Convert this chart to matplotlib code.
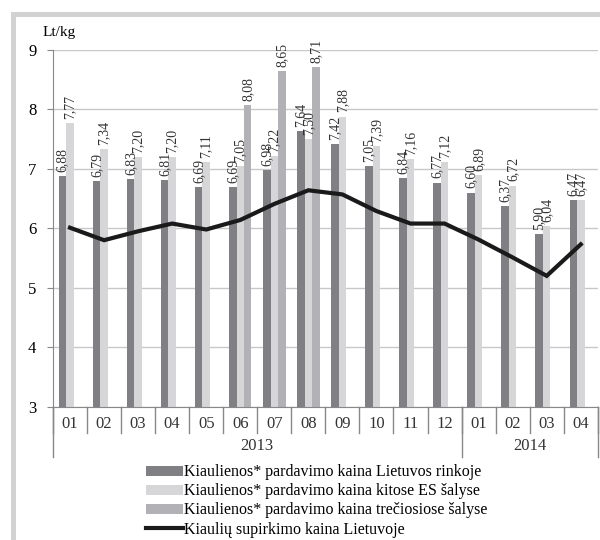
import numpy as np
import matplotlib
matplotlib.use("Agg")
import matplotlib.pyplot as plt
from matplotlib.patches import Rectangle
from matplotlib.transforms import blended_transform_factory

plt.rcParams['font.family'] = ['Liberation Serif', 'DejaVu Serif']

# data
months = ['01', '02', '03', '04', '05', '06', '07', '08', '09', '10', '11', '12',
          '01', '02', '03', '04']
years = ['2013', '2014']
year_sizes = [12, 4]

lt_rinka = [6.88, 6.79, 6.83, 6.81, 6.69, 6.69, 6.98, 7.64, 7.42, 7.05, 6.84, 6.77,
            6.60, 6.37, 5.90, 6.47]
es_salys = [7.77, 7.34, 7.20, 7.20, 7.11, 7.05, 7.22, 7.50, 7.88, 7.39, 7.16, 7.12,
            6.89, 6.72, 6.04, 6.47]
trecios = [np.nan, np.nan, np.nan, np.nan, np.nan, 8.08, 8.65, 8.71, np.nan, np.nan,
           np.nan, np.nan, np.nan, np.nan, np.nan, np.nan]
supirkimas = [6.01, 5.80, 5.95, 6.08, 5.98, 6.14, 6.41, 6.64, 6.57, 6.29, 6.08, 6.08,
              5.81, 5.51, 5.20, 5.73]

names = ['Kiaulienos* pardavimo kaina Lietuvos rinkoje',
         'Kiaulienos* pardavimo kaina kitose ES šalyse',
         'Kiaulienos* pardavimo kaina trečiosiose šalyse',
         'Kiaulių supirkimo kaina Lietuvoje']
colors = ['#808084', '#d6d6d8', '#b2b2b6']


def fmt(v):
    if np.isnan(v):
        return ''
    return f'{v:.2f}'.replace('.', ',')


fig = plt.figure(figsize=(6, 5.4), dpi=100)
ax = fig.add_axes([0.0883, 0.247, 0.908, 0.6604])

# outer frame (top and left)
fig.add_artist(Rectangle((0.018, 0.0), 0.009, 0.978, transform=fig.transFigure,
                         color='#d2d2d2', lw=0))
fig.add_artist(Rectangle((0.018, 0.9685), 0.982, 0.0095, transform=fig.transFigure,
                         color='#d2d2d2', lw=0))

x = np.arange(len(months))
w = 0.22
series = [lt_rinka, es_salys, trecios]
for k, vals in enumerate(series):
    bars = ax.bar(x + (k - 1) * w, vals, w, bottom=0, color=colors[k],
                  label=names[k], zorder=2)
    ax.bar_label(bars, labels=[fmt(v) for v in vals], rotation=90, padding=3,
                 fontsize=10, color='#333333')

ax.plot(x, supirkimas, color='#1a1a1a', lw=3, label=names[3], zorder=3,
        solid_joinstyle='miter')

ax.set_ylim(3, 9)
ax.set_xlim(-0.5, len(months) - 0.5)
ax.set_yticks(range(3, 10))
ax.yaxis.grid(True, color='#c8c8c8', lw=1)
ax.set_axisbelow(True)
ax.tick_params(axis='y', labelsize=12, length=4, color='#888888', pad=8)
ax.set_xticks(x)
ax.set_xticklabels(months, fontsize=12, color='#333333')
ax.tick_params(axis='x', length=0, pad=7)
for s in ['top', 'right']:
    ax.spines[s].set_visible(False)
for s in ['left', 'bottom']:
    ax.spines[s].set_color('#888888')

ax.text(-0.02, 1.03, 'Lt/kg', transform=ax.transAxes, fontsize=11, ha='left',
        va='bottom')

# category separators below the axis
tr = blended_transform_factory(ax.transData, ax.transAxes)
for b in np.arange(len(months) + 1) - 0.5:
    ax.plot([b, b], [0, -0.073], transform=tr, color='#888888', lw=1,
            clip_on=False)
start = -0.5
for yr, n in zip(years, year_sizes):
    ax.plot([start, start], [0, -0.14], transform=tr, color='#888888', lw=1,
            clip_on=False)
    ax.text(start + n / 2, -0.11, yr, transform=tr, ha='center', va='center',
            fontsize=12, color='#333333')
    start += n
ax.plot([start, start], [0, -0.14], transform=tr, color='#888888', lw=1,
        clip_on=False)

handles, labels = ax.get_legend_handles_labels()
order = [1, 2, 3, 0]
fig.legend([handles[i] for i in order], [labels[i] for i in order],
           loc='upper left', bbox_to_anchor=(0.243, 0.14), frameon=False,
           fontsize=11.5, handlelength=2.3, handleheight=0.55, handletextpad=0.1,
           labelspacing=0.19, borderpad=0, borderaxespad=0)

fig.savefig('out.png', dpi=100)
